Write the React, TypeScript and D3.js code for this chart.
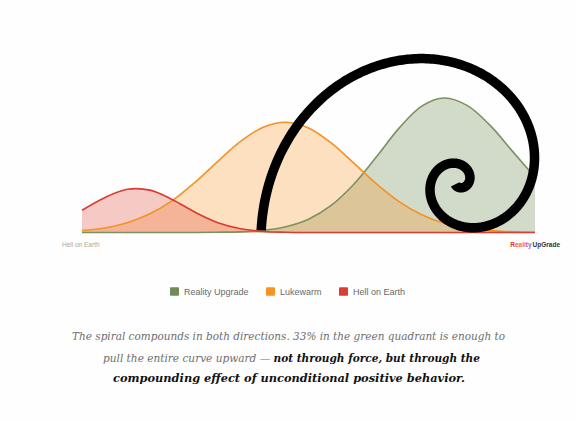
import React from 'react';
import * as d3 from 'd3';

// ---- data ----
const xValues = [0, 5, 10, 15, 20, 25, 30, 35, 40, 45, 50, 55, 60, 65, 70, 75, 80, 85, 90, 95, 100];
const realityUpgrade = [0, 0, 0, 0, 0, 0, 0.2, 0.5, 1.6, 4.3, 9.9, 20.1, 35.9, 56.3, 77.6, 94, 100, 94.5, 80, 60.5, 41];
const lukewarm = [1.5, 3.4, 7.3, 13.9, 23.9, 37.4, 52.9, 67.7, 78.3, 82, 77.7, 66.6, 51.6, 36.2, 23.0, 13.2, 6.8, 3.2, 1.4, 0.5, 0.2];
const hellOnEarth = [16.5, 25.9, 32.1, 31.5, 24.4, 15.0, 7.3, 2.8, 0.8, 0.2, 0, 0, 0, 0, 0, 0, 0, 0, 0, 0, 0];
const seriesNames = ['Reality Upgrade', 'Lukewarm', 'Hell on Earth'];
const axisLeftLabel = 'Hell on Earth';
const captionLine1 = 'The spiral compounds in both directions. 33% in the green quadrant is enough to';
const captionLine2a = 'pull the entire curve upward \u2014 ';
const captionLine2b = 'not through force, but through the';
const captionLine3 = 'compounding effect of unconditional positive behavior.';
const logoWord1 = 'Reality';
const logoWord2 = 'UpGrade';

// ---- styles ----
const lineColors = ['#7d9060', '#f39225', '#db3b31'];
const fillColors = ['rgba(108,136,80,0.3)', 'rgba(247,147,30,0.28)', 'rgba(222,70,50,0.28)'];
const legendColors = ['#708a58', '#f7931e', '#dc3a34'];
const logoColors = ['#e5322d', '#ef5533', '#f0744a', '#ea5e84', '#d35ea0', '#a45ec4', '#7a70d2'];

// golden spiral (decorative), centre in data units, radius in px
const spiral = { cx: 83.2, cy: 38.3, r0: 79.1, theta0: 343, k: 0.3063, start: 166, end: 858 };

export default function App() {
  const W = 576, H = 421;
  const x = d3.scaleLinear().domain([0, 100]).range([82, 535]);
  const y = d3.scaleLinear().domain([0, 100]).range([232.5, 98]);
  const series = [realityUpgrade, lukewarm, hellOnEarth];

  const curve = d3.curveCatmullRom.alpha(0.5);
  const area = d3.area<number>()
    .x((_, i) => x(xValues[i]))
    .y0(y(0))
    .y1((d) => Math.min(y(d), y(0)))
    .curve(curve);
  const line = d3.line<number>()
    .x((_, i) => x(xValues[i]))
    .y((d) => y(d))
    .curve(curve);

  const cxp = x(spiral.cx), cyp = y(spiral.cy);
  const thetas = d3.range(spiral.start, spiral.end + 0.5, 1);
  const spiralPts: [number, number][] = thetas.map((t) => {
    const r = spiral.r0 * Math.exp(-spiral.k * (t - spiral.theta0) * Math.PI / 180);
    const a = t * Math.PI / 180;
    return [cxp + r * Math.cos(a), cyp + r * Math.sin(a)];
  });
  const spiralPath = d3.line().curve(d3.curveLinear)(spiralPts) || '';

  const legendX = [170, 266, 339];
  const serif = 'DejaVu Serif, Liberation Serif, serif';

  return (
    <svg width={W} height={H} style={{ position: 'absolute', left: 0, top: 0, background: '#fefefe' }}>
      <rect x={0} y={0} width={W} height={H} fill="#fefefe" />
      {series.map((s, i) => (
        <path key={'a' + i} d={area(s) || ''} fill={fillColors[i]} stroke="none" />
      ))}
      {series.map((s, i) => (
        <path key={'l' + i} d={line(s) || ''} fill="none" stroke={lineColors[i]} strokeWidth={1.6} />
      ))}
      <path d={spiralPath} fill="none" stroke="#000" strokeWidth={9.5} strokeLinecap="butt" strokeLinejoin="round" />

      <text x={62} y={247} fontFamily="Liberation Sans, Arial, sans-serif" fontSize={6.5} fill="#a8a8a8">{axisLeftLabel}</text>
      <text x={560} y={247} textAnchor="end" fontFamily="Liberation Sans, Arial, sans-serif" fontSize={6.5} fontWeight="bold">
        {logoWord1.split('').map((c, i) => (
          <tspan key={i} fill={logoColors[i % logoColors.length]}>{c}</tspan>
        ))}
        <tspan fill="#333" dx={1}>{logoWord2}</tspan>
      </text>

      {seriesNames.map((n, i) => (
        <g key={'lg' + i} transform={`translate(${legendX[i]},287.3)`}>
          <rect x={0} y={0} width={9} height={8.5} rx={1} fill={legendColors[i]} />
          <text x={14} y={7.7} fontFamily="Liberation Sans, Arial, sans-serif" fontSize={9} fill="#6a6a6a">{n}</text>
        </g>
      ))}

      <text x={72} y={340} textLength={433} lengthAdjust="spacingAndGlyphs" fontFamily={serif} fontStyle="italic" fontSize={11.5} fill="#6e6e6e">{captionLine1}</text>
      <text x={103} y={361.5} textLength={377} lengthAdjust="spacingAndGlyphs" fontFamily={serif} fontStyle="italic" fontSize={11.5}>
        <tspan fill="#6e6e6e">{captionLine2a}</tspan>
        <tspan fill="#111" fontWeight="bold">{captionLine2b}</tspan>
      </text>
      <text x={113} y={381.5} textLength={352} lengthAdjust="spacingAndGlyphs" fontFamily={serif} fontStyle="italic" fontWeight="bold" fontSize={11.5} fill="#111">{captionLine3}</text>
    </svg>
  );
}
